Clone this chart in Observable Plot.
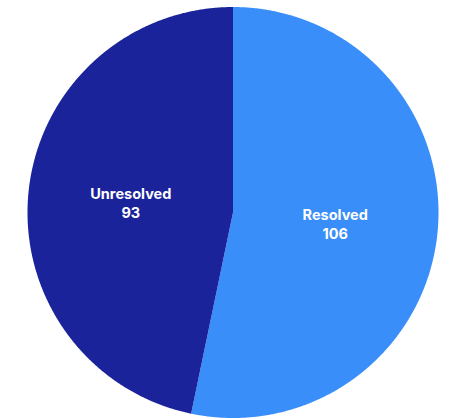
<!DOCTYPE html>
<html><head><meta charset="utf-8">
<script src="https://cdn.jsdelivr.net/npm/d3@7"></script>
<script src="https://cdn.jsdelivr.net/npm/@observablehq/plot@0.6"></script>
<style>body{margin:0;background:#fff;}</style>
</head><body><div id="chart"></div>
<script>
const categories = ["Resolved", "Unresolved"];
const values = [106, 93];
const colors = ["#3a8ef9", "#1b239b"];

const data = categories.map((c, i) => ({category: c, value: values[i]}));
const arcs = d3.pie().value(d => d.value).sort(null)(data);

const slicePts = [];
const labelPts = [];
arcs.forEach(a => {
  const n = Math.max(2, Math.ceil((a.endAngle - a.startAngle) / 0.005));
  slicePts.push({category: a.data.category, x: 0, y: 0});
  for (let k = 0; k <= n; k++) {
    const t = a.startAngle + (a.endAngle - a.startAngle) * k / n;
    slicePts.push({category: a.data.category, x: Math.sin(t), y: Math.cos(t)});
  }
  const m = (a.startAngle + a.endAngle) / 2;
  labelPts.push({category: a.data.category, value: a.data.value, x: 0.5 * Math.sin(m), y: 0.5 * Math.cos(m)});
});

const chart = Plot.plot({
  width: 449,
  height: 419,
  marginLeft: 27,
  marginRight: 11,
  marginTop: 6.5,
  marginBottom: 1.5,
  x: {domain: [-1, 1], axis: null},
  y: {domain: [-1, 1], axis: null},
  color: {domain: categories, range: colors},
  marks: [
    Plot.line(slicePts, {x: "x", y: "y", z: "category", fill: "category", stroke: null, curve: "linear-closed"}),
    Plot.text(labelPts, {x: "x", y: "y", text: d => `${d.category}\n${d.value}`, fill: "white",
      fontSize: 14.5, fontWeight: "bold", lineHeight: 1.32, fontFamily: "Inter, sans-serif"})
  ]
});
document.getElementById("chart").append(chart);
</script></body></html>
